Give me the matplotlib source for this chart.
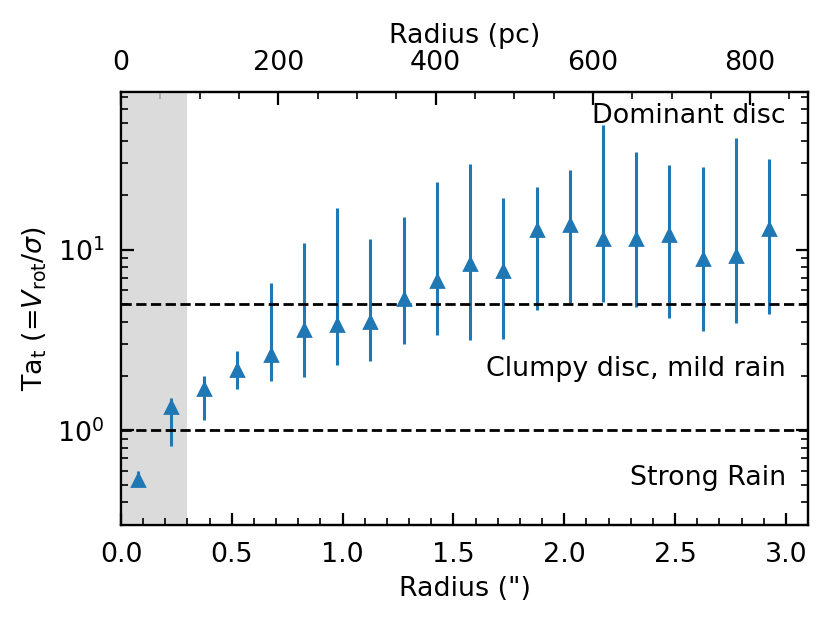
import numpy as np
import matplotlib
matplotlib.use("Agg")
import matplotlib.pyplot as plt
from matplotlib.ticker import MultipleLocator

plt.rcParams['font.size'] = 9.7

# radial bins (arcsec) and Ta_t with lower / upper bounds of the error bars
radius = [0.075, 0.225, 0.375, 0.525, 0.675, 0.825, 0.975, 1.125, 1.275, 1.425,
          1.575, 1.725, 1.875, 2.025, 2.175, 2.325, 2.475, 2.625, 2.775, 2.925]
tat = [0.53, 1.35, 1.70, 2.16, 2.60, 3.58, 3.82, 3.97, 5.36, 6.74,
       8.34, 7.59, 12.9, 13.7, 11.4, 11.5, 12.1, 8.92, 9.18, 13.1]
tat_lo = [0.49, 0.82, 1.14, 1.69, 1.89, 1.97, 2.29, 2.41, 3.01, 3.39,
          3.18, 3.21, 4.66, 5.08, 5.12, 4.80, 4.19, 3.57, 3.94, 4.43]
tat_hi = [0.60, 1.52, 2.01, 2.74, 6.54, 10.9, 17.0, 11.5, 15.1, 23.7,
          29.9, 19.4, 22.2, 27.7, 49.1, 34.5, 29.5, 28.6, 41.4, 31.7]

pc_per_arcsec = 281.8   # escala per a l'eix de dalt
r_beam = 0.3            # zona ombrejada (arcsec)
r_max = 3.1

tat = np.array(tat)
yerr = [tat - np.array(tat_lo), np.array(tat_hi) - tat]

fig = plt.figure(figsize=(4.15, 3.115), dpi=200)
ax = fig.add_subplot(111)
fig.subplots_adjust(left=0.1458, right=0.9735, bottom=0.1573, top=0.8531)

ax2 = ax.twiny()
ax2.set_xlim(0, r_max * pc_per_arcsec)
ax2.axvspan(0, r_beam * pc_per_arcsec, color='lightgray', alpha=0.8, lw=0, zorder=3)
ax2.xaxis.set_major_locator(MultipleLocator(200))
ax2.xaxis.set_minor_locator(MultipleLocator(50))
ax2.tick_params(which='both', direction='in', pad=5.5)
ax2.tick_params(which='major', length=4.5)
ax2.tick_params(which='minor', length=2.5)
ax2.set_xlabel('Radius (pc)', labelpad=2.5)

# l'eix principal per sobre de l'ombrejat
ax.set_zorder(ax2.get_zorder() + 1)
ax.patch.set_visible(False)

ax.errorbar(radius, tat, yerr=yerr, fmt='^', color='C0', ms=4.5,
            elinewidth=1.1, capsize=0)
ax.axhline(5, color='k', ls='--', lw=1)
ax.axhline(1, color='k', ls='--', lw=1)

ax.text(3.0, 50, 'Dominant disc', ha='right')
ax.text(3.0, 2, 'Clumpy disc, mild rain', ha='right')
ax.text(3.0, 0.5, 'Strong Rain', ha='right')

ax.set_yscale('log')
ax.set_ylim(0.3, 75)
ax.set_xlim(0, r_max)
ax.xaxis.set_major_locator(MultipleLocator(0.5))
ax.xaxis.set_minor_locator(MultipleLocator(0.1))
ax.tick_params(which='both', direction='in', right=True, pad=6)
ax.tick_params(which='major', length=4.5)
ax.tick_params(which='minor', length=2.5)

ax.set_xlabel('Radius (")', labelpad=3)
ax.set_ylabel(r'Ta$_{\rm t}$ (=$V_{\rm rot}/\sigma$)', labelpad=3)

plt.savefig('out.png', dpi=200)
